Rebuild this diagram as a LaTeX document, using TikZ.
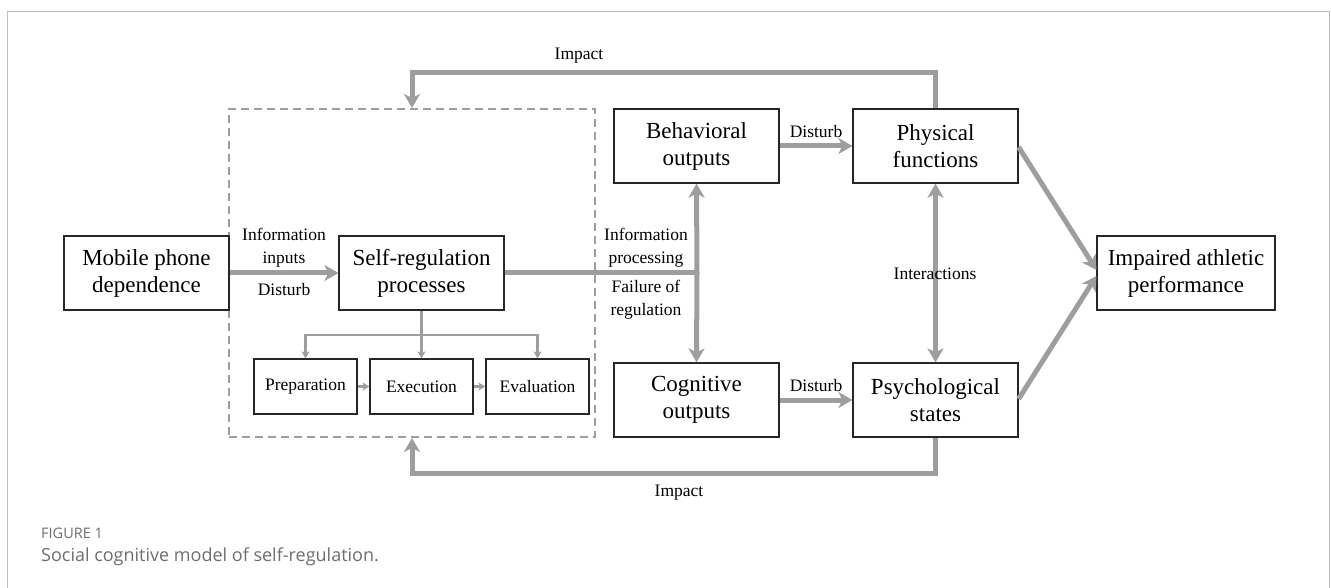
\documentclass[tikz,border=0pt]{standalone}
\usepackage{fontspec}
\setmainfont{Liberation Serif}
\newfontfamily\capfont{Open Sans}
\usetikzlibrary{arrows.meta,calc}
\definecolor{arr}{RGB}{158,158,158}
\definecolor{frm}{RGB}{190,190,190}
\definecolor{capc}{RGB}{110,110,110}
\tikzset{
  bigbox/.style={draw=black!85,line width=1.2pt,inner sep=0pt,minimum width=165pt,minimum height=74pt,align=center,font=\fontsize{23}{27}\selectfont},
  smallbox/.style={draw=black!85,line width=1.2pt,inner sep=0pt,minimum width=103pt,minimum height=55pt,align=center,font=\fontsize{17.5}{21}\selectfont},
  thickarr/.style={draw=arr,line width=5pt,-{Stealth[length=14pt,width=16pt,inset=4pt]}},
  thickline/.style={draw=arr,line width=5pt},
  thinarr/.style={draw=arr,line width=2.3pt,-{Stealth[length=7pt,width=8pt,inset=2pt]}},
  thinline/.style={draw=arr,line width=2.3pt},
  lbl/.style={align=center,inner sep=0pt,font=\fontsize{17.5}{23}\selectfont}
}
\begin{document}
\begin{tikzpicture}[x=1pt,y=-1pt]
\useasboundingbox (0,0) rectangle (1331,588);
% outer frame
\draw[frm,line width=1pt] (7,588) -- (7,12) -- (1329.5,12) -- (1329.5,588);
% dashed region
\node[draw=arr,dashed,dash pattern=on 8pt off 5pt,line width=2pt,inner sep=0pt,minimum width=366pt,minimum height=328pt] (sr) at (412,273) {};
% nodes
\node[bigbox] (mob) at (146.5,273) {Mobile phone\\dependence};
\node[bigbox] (srp) at (421.5,273) {Self-regulation\\processes};
\node[smallbox] (prep) at (305.5,386.5) {Preparation};
\node[smallbox] (exec) at (421.5,386.5) {Execution};
\node[smallbox] (eval) at (537.5,386.5) {Evaluation};
\node[bigbox] (beh) at (696.5,146) {Behavioral\\outputs};
\node[bigbox] (phy) at (935.5,146) {Physical\\functions};
\node[bigbox] (cog) at (696.5,400) {Cognitive\\outputs};
\node[bigbox] (psy) at (935.5,400) {Psychological\\states};
\node[bigbox,minimum width=178pt] (imp) at (1186,273) {Impaired athletic\\performance};
% coordinates
\coordinate (j) at (697,273);
\coordinate (br) at (421.5,335);
\coordinate (topL) at (412,73);
\coordinate (botL) at (412,473);
% connectors
\draw[thickarr] (mob) -- (srp);
\draw[thickline] (srp.east) -- (j);
\draw[thickarr] (j) -- (beh.south);
\draw[thickarr] (j) -- (cog.north);
\draw[thickarr] (beh) -- (phy);
\draw[thickarr] (cog) -- (psy);
\draw[thickarr,{Stealth[length=14pt,width=16pt,inset=4pt]}-{Stealth[length=14pt,width=16pt,inset=4pt]}] (phy.south) -- (psy.north);
\draw[thickarr] (phy.north -| 935,0) |- (topL) -- (sr.north -| topL);
\draw[thickarr] (psy.south -| 935,0) |- (botL) -- (sr.south -| botL);
\draw[thickarr] ($(phy.east)+(0,1)$) -- ($(imp.west)+(0,-3)$);
\draw[thickarr] ($(psy.east)+(0,-1)$) -- ($(imp.west)+(0,3)$);
\draw[thinline] (srp.south) -- (br);
\draw[thinarr] (br) -| (prep.north);
\draw[thinarr] (br) -| (eval.north);
\draw[thinarr] (br) -- (exec.north);
\draw[thinarr] (prep) -- (exec);
\draw[thinarr] (exec) -- (eval);
% labels
\node[lbl] (l1) at (579,56) {Impact};
\node[lbl] (l2) at (679,493) {Impact};
\node[lbl] (l3) at (284,248) {Information\\inputs};
\node[lbl] (l4) at (284,290) {Disturb};
\node[lbl] (l5) at (646,248) {Information\\processing};
\node[lbl] (l6) at (646,300) {Failure of\\regulation};
\node[lbl] (l7) at (816,132) {Disturb};
\node[lbl] (l8) at (816,386) {Disturb};
\node[lbl] (l9) at (935,274) {Interactions};
% caption
\node[anchor=west,inner sep=0pt,text=capc,font=\capfont\fontsize{14.5}{16}\selectfont] (fig) at (41,533) {FIGURE 1};
\node[anchor=west,inner sep=0pt,text=capc,font=\capfont\fontsize{18}{21}\selectfont] (cap) at (41,557) {Social cognitive model of self-regulation.};
\end{tikzpicture}
\end{document}
